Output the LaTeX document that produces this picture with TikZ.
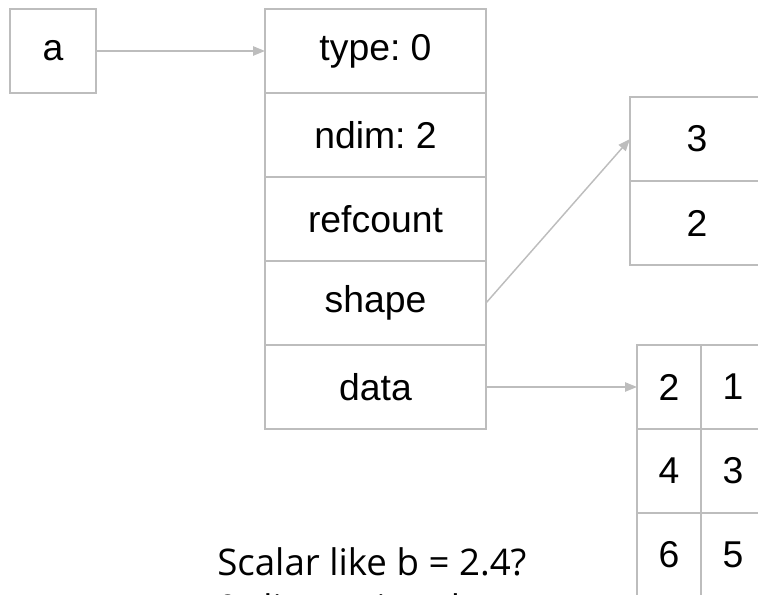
\documentclass[tikz,border=0pt]{standalone}
\usepackage{fontspec}
\setmainfont{Liberation Sans}
\newfontfamily\notefont{Open Sans}
\usepackage{xcolor}
\usetikzlibrary{arrows.meta,positioning}
\definecolor{linegray}{HTML}{BDBDBD}
\frenchspacing

\begin{document}
\begin{tikzpicture}[
  x=0.75pt, y=-0.75pt,
  node distance=0pt,
  cell/.style={rectangle, draw=linegray, line width=1.1pt, outer sep=0pt, inner sep=0pt,
               minimum height=63pt, font=\fontsize{28}{33}\selectfont},
  field/.style={cell, minimum width=165.75pt},
  dimcell/.style={cell, minimum width=100.5pt},
  gridcell/.style={cell, minimum width=48pt},
  arr/.style={-{Triangle[length=9pt, width=7pt]}, draw=linegray, line width=1.1pt},
  note/.style={anchor=north west, inner sep=0pt, align=left,
               font=\notefont\fontsize{27.5}{35}\selectfont}
]
\useasboundingbox (0,0) rectangle (758,595);

\node[cell, minimum width=64.5pt] (a) at (53,51) {a};

\node[field] (type) at (375.5,51) {type: 0};
\node[field, below=of type] (ndim) {ndim: 2};
\node[field, below=of ndim] (refc) {refcount};
\node[field, below=of refc] (shape) {shape};
\node[field, below=of shape] (data) {data};

\node[dimcell] (sh3) at (697,139) {3};
\node[dimcell, below=of sh3] (sh2) {2};

\node[gridcell] (d2) at (669,387) {2};
\node[gridcell, right=of d2] (d1) {1};
\node[gridcell, below=of d2] (d4) {4};
\node[gridcell, right=of d4] (d3) {3};
\node[gridcell, below=of d4] (d6) {6};
\node[gridcell, right=of d6] (d5) {5};

\draw[arr] (a) -- (type);
\draw[arr] (shape.east) -- (sh3.west);
\draw[arr] (data) -- (d2);

\node[note] (scalar) at (217,547) {Scalar like b = 2.4?\\0-dimensional array};

\end{tikzpicture}
\end{document}
